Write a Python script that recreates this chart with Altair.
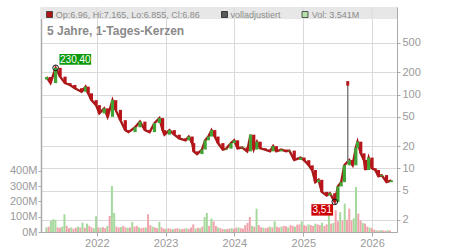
import altair as alt
import pandas as pd

# ---------------- data ----------------
price_dates = [
    "2021-04-09", "2021-04-30", "2021-05-27", "2021-06-20", "2021-07-16", "2021-08-11",
    "2021-09-06", "2021-10-12", "2021-11-02", "2021-11-16", "2021-12-03", "2021-12-28",
    "2022-01-14", "2022-02-09", "2022-02-27", "2022-03-25", "2022-04-11", "2022-05-06",
    "2022-06-01", "2022-06-18", "2022-07-23", "2022-08-18", "2022-09-13", "2022-10-08",
    "2022-11-03", "2022-11-29", "2022-12-16", "2022-12-26", "2023-01-21", "2023-02-16",
    "2023-03-14", "2023-04-17", "2023-05-04", "2023-05-22", "2023-05-30", "2023-06-17",
    "2023-07-13", "2023-07-30", "2023-08-16", "2023-09-02", "2023-09-19", "2023-10-06",
    "2023-11-01", "2023-11-19", "2023-12-14", "2023-12-31", "2024-01-18", "2024-02-12",
    "2024-03-09", "2024-03-27", "2024-04-13", "2024-04-30", "2024-05-17", "2024-06-12",
    "2024-07-08", "2024-07-25", "2024-08-11", "2024-09-06", "2024-10-02", "2024-10-19",
    "2024-11-14", "2024-12-18", "2025-01-05", "2025-01-30", "2025-02-17", "2025-03-06",
    "2025-03-23", "2025-04-09", "2025-05-05", "2025-05-22", "2025-06-17", "2025-07-04",
    "2025-07-21", "2025-08-07", "2025-09-02", "2025-09-20", "2025-10-07", "2025-10-16",
    "2025-11-02", "2025-11-19", "2025-11-27", "2025-12-14", "2026-01-01", "2026-01-18",
    "2026-02-04", "2026-02-21", "2026-03-19", "2026-04-14",
]
price_close = [
    173, 143, 230.4, 175, 143, 135,
    122, 109, 128, 104, 84, 72,
    55.6, 65, 50, 84, 62, 45,
    33, 31, 36, 43, 33, 31,
    41, 48, 33, 28.6, 33, 28.6,
    25.5, 24, 27, 22, 17, 15.6,
    18, 24, 27, 33, 27, 22,
    18, 18.5, 22, 24, 18.7, 19.2,
    17, 28.6, 18, 23, 18.7, 18,
    17, 20, 17, 18, 17, 17.4,
    13, 14, 12.9, 11, 9.5, 6.5,
    7, 4.8, 4.3, 4.6, 3.51, 5.7,
    6.5, 11, 13, 11, 19, 23,
    16, 13, 9.5, 14, 10, 9.5,
    7.8, 8.1, 6.5, 6.86,
]
first_open = 160

spike_dates = ["2025-08-25"]
spike_high = [152]
spike_low = [12]
spike_open = [152]
spike_close = [132]

vol_start = "2021-04-08"
vol_values = [
    30, 35, 72, 83, 80, 30, 28, 35, 116, 40,
    25, 30, 22, 28, 35, 30, 62, 28, 55, 40,
    30, 25, 103, 30, 28, 32, 25, 40, 105, 302,
    125, 35, 30, 32, 40, 30, 28, 30, 66, 35,
    40, 30, 25, 28, 30, 116, 45, 35, 30, 25,
    66, 30, 22, 20, 25, 20, 18, 22, 25, 20,
    18, 22, 25, 20, 30, 50, 22, 28, 25, 35,
    98, 125, 40, 88, 70, 40, 30, 25, 20, 18,
    20, 22, 25, 20, 28, 30, 25, 22, 45, 60,
    98, 40, 35, 153, 45, 30, 28, 25, 30, 35,
    30, 70, 35, 30, 35, 40, 38, 30, 45, 40,
    35, 48, 50, 70, 45, 40, 50, 45, 40, 55,
    50, 45, 60, 40, 50, 110, 55, 60, 142, 70,
    130, 75, 186, 80, 153, 75, 90, 295, 120, 75,
    60, 55, 35, 30, 25, 15, 12, 10, 12, 10,
    8, 12, 10,
]
vol_dir = ("grgggrrggr" "rgrrgrgrgr" "rggrgrrgrg" "grrgrrgrgr" "rgrrgrrgrr"
           "grrgrrgrrg" "rrgrrrgrgr" "ggrgrrgrrg" "rrgrrgrrrr" "rgrgrrgrrg"
           "rgrrgrrgrr" "grrgrrgrrg" "rrgrrgrgrr" "grgrrrggrr" "grrgrrgrgr" "rgr")

year_ticks = [2022, 2023, 2024, 2025, 2026]
price_ticks = [2, 5, 10, 20, 50, 100, 200, 500]
vol_ticks = [0, 100, 200, 300, 400]

peak_date, peak_value, peak_label = ["2021-05-27"], [230.4], ["230,40"]
low_date, low_value, low_label = ["2025-06-17"], [3.51], ["3,51"]

legend_texts = ["Op:6.96, Hi:7.165, Lo:6.855, Cl:6.86", "volladjustiert", "Vol: 3.541M"]
title_text = "5 Jahre, 1-Tages-Kerzen"

# ---------------- tables ----------------
candles = pd.DataFrame({
    "date": price_dates,
    "open": [first_open] + price_close[:-1],
    "close": price_close,
})
spike = pd.DataFrame({"date": spike_dates, "high": spike_high, "low": spike_low,
                      "open": spike_open, "close": spike_close})
vol = pd.DataFrame({
    "date": pd.date_range(vol_start, periods=len(vol_values), freq="12D").strftime("%Y-%m-%d"),
    "vol": vol_values,
    "dir": list(vol_dir[:len(vol_values)]),
})
peak = pd.DataFrame({"date": peak_date, "close": peak_value, "label": peak_label})
low = pd.DataFrame({"date": low_date, "close": low_value, "label": low_label})
years = pd.DataFrame({"date": [f"{y}-01-01" for y in year_ticks]})
one = pd.DataFrame({"k": [0]})

# ---------------- style ----------------
W, H = 356, 225
FONT = "Liberation Sans"
GRID = "#dadada"
AXC = "#aaaaaa"
LBL = "#9a9a9a"
RED = "#b8151b"
GREEN = "#3fa535"
VGREEN = "#a6d99d"
VPINK = "#f1a3ac"

x_scale = alt.Scale(domain=[alt.DateTime(year=2021, month=4, date=6),
                            alt.DateTime(year=2026, month=4, date=17)])
x_axis = alt.Axis(values=[alt.DateTime(year=y, month=1, date=1) for y in year_ticks],
                  format="%Y", title=None, grid=True, gridColor=GRID,
                  labelColor=LBL, labelFontSize=11, labelFont=FONT,
                  tickSize=4, tickColor=AXC, domainColor=AXC, labelPadding=1,
                  labelFlush=False)


def X():
    return alt.X("date:T", scale=x_scale, axis=x_axis)


p_scale = alt.Scale(type="log", domain=[1.373, 1537], nice=False)
p_axis = alt.Axis(orient="right", values=price_ticks, format="d", title=None,
                  grid=True, gridColor=GRID, labelColor=LBL, labelFontSize=11,
                  labelFont=FONT, tickSize=3, tickColor=AXC, domainColor=AXC,
                  labelPadding=2)


def Y(field):
    return alt.Y(f"{field}:Q", scale=p_scale, axis=p_axis)


# ---------------- layers ----------------
vol_bars = alt.Chart(vol).mark_bar(width=2.0).encode(
    x=X(),
    y=alt.Y("vol:Q", scale=alt.Scale(domain=[0, 1475], nice=False, zero=True),
            axis=alt.Axis(orient="left", values=vol_ticks, labelExpr="datum.value + 'M'",
                          title=None, grid=False, labelColor=LBL, labelFontSize=11,
                          labelFont=FONT, tickSize=3, tickColor=AXC, domainColor=AXC,
                          domainWidth=1.5, labelPadding=1)),
    color=alt.condition("datum.dir == 'g'", alt.value(VGREEN), alt.value(VPINK)),
)

price_line = alt.Chart(candles).mark_line(color="#a51a1a", strokeWidth=2.4).encode(
    x=X(), y=Y("close"))

candle_bars = alt.Chart(candles).mark_bar(width=3.2).encode(
    x=X(), y=Y("open"), y2="close:Q",
    color=alt.condition("datum.close >= datum.open", alt.value(GREEN), alt.value(RED)),
)

spike_rule = alt.Chart(spike).mark_rule(color="#7f7f7f", strokeWidth=1.5).encode(
    x=X(), y=Y("low"), y2="high:Q")
spike_body = alt.Chart(spike).mark_bar(width=3).encode(
    x=X(), y=Y("open"), y2="close:Q",
    color=alt.condition("datum.close >= datum.open", alt.value(GREEN), alt.value(RED)),
)

BOX1 = "M-1,-0.3375L1,-0.3375L1,0.3375L-1,0.3375Z"
BOX2 = "M-1,-0.525L1,-0.525L1,0.525L-1,0.525Z"

peak_box = alt.Chart(peak).mark_point(shape=BOX1, size=1005, filled=True, opacity=1,
                                      color="#0c9a0c", strokeWidth=0,
                                      xOffset=19.7, yOffset=-8.5).encode(x=X(), y=Y("close"))
peak_text = alt.Chart(peak).mark_text(dx=19.7, dy=-8.3, align="center", baseline="middle",
                                      color="#ffffff", fontSize=10, font=FONT).encode(
    x=X(), y=Y("close"), text="label:N")
peak_circle = alt.Chart(peak).mark_point(shape="circle", size=32, filled=False, opacity=1,
                                         color="#111111", strokeWidth=1).encode(x=X(), y=Y("close"))

low_box = alt.Chart(low).mark_point(shape=BOX2, size=471, filled=True, opacity=1,
                                    color="#cc0000", strokeWidth=0,
                                    xOffset=-12.5, yOffset=8).encode(x=X(), y=Y("close"))
low_text = alt.Chart(low).mark_text(dx=-12.5, dy=8.2, align="center", baseline="middle",
                                    color="#ffffff", fontSize=10, font=FONT).encode(
    x=X(), y=Y("close"), text="label:N")
low_circle = alt.Chart(low).mark_point(shape="circle", size=32, filled=False, opacity=1,
                                       color="#111111", strokeWidth=1).encode(x=X(), y=Y("close"))

price_layer = alt.layer(price_line, candle_bars, spike_rule, spike_body,
                        peak_circle, low_circle, peak_box, peak_text, low_box, low_text)

# header band & legend
band = alt.Chart(one).mark_rect(color="#e7e7e7").encode(
    x=alt.value(0), x2=alt.value(W), y=alt.value(0), y2=alt.value(12))
band_rules = alt.Chart(years).mark_rule(color=GRID).encode(
    x=X(), y=alt.value(0), y2=alt.value(12))


def swatch(x0, fill, stroke):
    return alt.Chart(one).mark_rect(fill=fill, stroke=stroke, strokeWidth=0.8).encode(
        x=alt.value(x0), x2=alt.value(x0 + 6), y=alt.value(4.5), y2=alt.value(10.5))


def htext(x0, txt):
    return alt.Chart(one).mark_text(align="left", baseline="middle", fontSize=9,
                                    font=FONT, color="#8c8c8c").encode(
        x=alt.value(x0), y=alt.value(8), text=alt.value(txt))


title = alt.Chart(one).mark_text(align="left", baseline="middle", fontSize=12,
                                 fontWeight="bold", font=FONT, color="#8a8a8a").encode(
    x=alt.value(6), y=alt.value(23.5), text=alt.value(title_text))

header = alt.layer(
    band, band_rules,
    swatch(5.5, "#b01515", "#333333"), htext(14.7, legend_texts[0]),
    swatch(180.5, "#5a5a5a", "#222222"), htext(189.4, legend_texts[1]),
    swatch(261, "#b4e0aa", "#333333"), htext(270.7, legend_texts[2]),
    title,
)

chart = alt.layer(vol_bars, price_layer, header).resolve_scale(
    y="independent"
).resolve_axis(y="independent").properties(
    width=W, height=H,
    autosize=alt.AutoSizeParams(type="none"),
    padding={"left": 41, "top": 7, "right": 53, "bottom": 18},
).configure_view(stroke="#cfcfcf").configure(background="white")

chart.save("out.html", embed_options={"renderer": "svg", "actions": False})
